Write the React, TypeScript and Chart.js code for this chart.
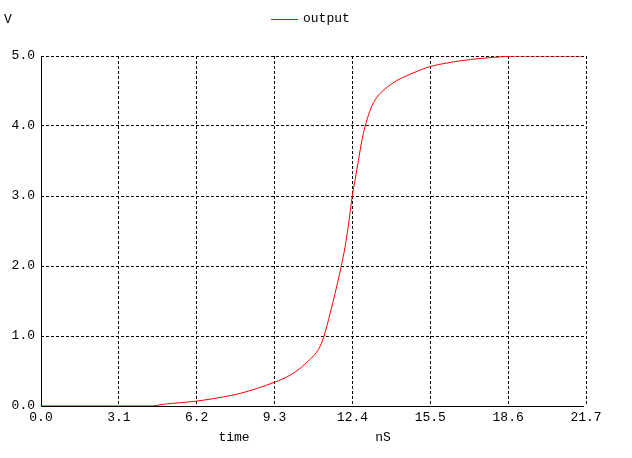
import React, { useEffect, useRef } from "react";
import { Chart, registerables } from "chart.js";

Chart.register(...registerables);

const seriesName = "output";
const timeNs = [0, 4.35, 5.0, 6.2, 7.26, 7.93, 8.59, 9.3, 9.92, 10.32, 10.69, 11.05, 11.27, 11.51, 11.71, 11.95, 12.11, 12.27, 12.39, 12.51, 12.64, 12.78, 12.91, 13.11, 13.37, 13.7, 14.17, 14.7, 15.1, 15.5, 16.16, 17.1, 18.02, 18.95, 21.54];
const voltage = [0, 0, 0.03, 0.07, 0.13, 0.18, 0.25, 0.34, 0.44, 0.54, 0.66, 0.81, 1.0, 1.32, 1.61, 1.99, 2.28, 2.66, 2.99, 3.24, 3.51, 3.8, 4.0, 4.23, 4.41, 4.53, 4.65, 4.74, 4.8, 4.85, 4.9, 4.95, 4.98, 5.0, 5.0];
const xTickValues = [0, 3.1, 6.2, 9.3, 12.4, 15.5, 18.6, 21.7];
const yTickValues = [0, 1, 2, 3, 4, 5];
const yAxisTitle = "V";
const xAxisTitle = "time";
const xUnit = "nS";

const FONT = '13px "Liberation Mono", "DejaVu Sans Mono", monospace';

const overlayPlugin = {
  id: "overlay",
  beforeDatasetsDraw(chart: any) {
    const { ctx, chartArea, scales } = chart;
    const xs = scales.x;
    ctx.save();
    ctx.strokeStyle = "#000";
    ctx.lineWidth = 1;
    ctx.setLineDash([]);
    const left = Math.round(chartArea.left) + 0.5;
    const bottom = Math.round(chartArea.bottom) + 0.5;
    const lastX = Math.round(xs.getPixelForValue(timeNs[timeNs.length - 1])) + 1;
    ctx.beginPath();
    ctx.moveTo(left, Math.round(chartArea.top));
    ctx.lineTo(left, bottom);
    ctx.lineTo(lastX, bottom);
    ctx.stroke();
    ctx.restore();
  },
  afterDraw(chart: any) {
    const { ctx } = chart;
    ctx.save();
    ctx.font = FONT;
    ctx.fillStyle = "#000";
    ctx.textBaseline = "middle";
    ctx.textAlign = "center";
    ctx.fillText(yAxisTitle, 8, 20);
    ctx.fillText(xAxisTitle, 234, 438);
    ctx.fillText(xUnit, 383, 438);
    // legend
    ctx.strokeStyle = "#ff0000";
    ctx.lineWidth = 1;
    ctx.beginPath();
    ctx.moveTo(271, 19.5);
    ctx.lineTo(298, 19.5);
    ctx.stroke();
    ctx.textAlign = "left";
    ctx.fillText(seriesName, 303, 19);
    ctx.restore();
  },
};

export default function App() {
  const ref = useRef<HTMLCanvasElement>(null);
  useEffect(() => {
    document.body.style.margin = "0";
    const canvas = ref.current;
    if (!canvas) return;
    const chart = new Chart(canvas, {
      type: "line",
      data: {
        datasets: [
          {
            label: seriesName,
            data: timeNs.map((t, i) => ({ x: t, y: voltage[i] })),
            borderColor: "#ff0000",
            borderWidth: 1,
            pointRadius: 0,
            fill: false,
            cubicInterpolationMode: "monotone",
          },
        ],
      },
      options: {
        animation: false,
        responsive: false,
        maintainAspectRatio: false,
        layout: { padding: { left: 0, top: 56, right: 46, bottom: 0 } },
        plugins: { legend: { display: false }, tooltip: { enabled: false } },
        scales: {
          x: {
            type: "linear",
            min: 0,
            max: 21.7,
            afterBuildTicks: (s: any) => {
              s.ticks = xTickValues.map((v) => ({ value: v }));
            },
            afterFit: (s: any) => {
              s.height = 52;
            },
            ticks: {
              font: { family: '"Liberation Mono"', size: 13 },
              color: "#000",
              padding: 4,
              maxRotation: 0,
              autoSkip: false,
              callback: (v: any) => Number(v).toFixed(1),
            },
            grid: { color: "#000", lineWidth: 1, drawTicks: false },
            border: { display: false, dash: [3, 2] },
          },
          y: {
            type: "linear",
            min: 0,
            max: 5,
            afterBuildTicks: (s: any) => {
              s.ticks = yTickValues.map((v) => ({ value: v }));
            },
            afterFit: (s: any) => {
              s.width = 41;
            },
            ticks: {
              font: { family: '"Liberation Mono"', size: 13 },
              color: "#000",
              padding: 6,
              callback: (v: any) => Number(v).toFixed(1),
            },
            grid: { color: "#000", lineWidth: 1, drawTicks: false },
            border: { display: false, dash: [3, 2] },
          },
        },
      },
      plugins: [overlayPlugin],
    });
    return () => chart.destroy();
  }, []);
  return (
    <div style={{ width: 632, height: 458, background: "#fff" }}>
      <canvas ref={ref} width={632} height={458} style={{ display: "block" }} />
    </div>
  );
}
